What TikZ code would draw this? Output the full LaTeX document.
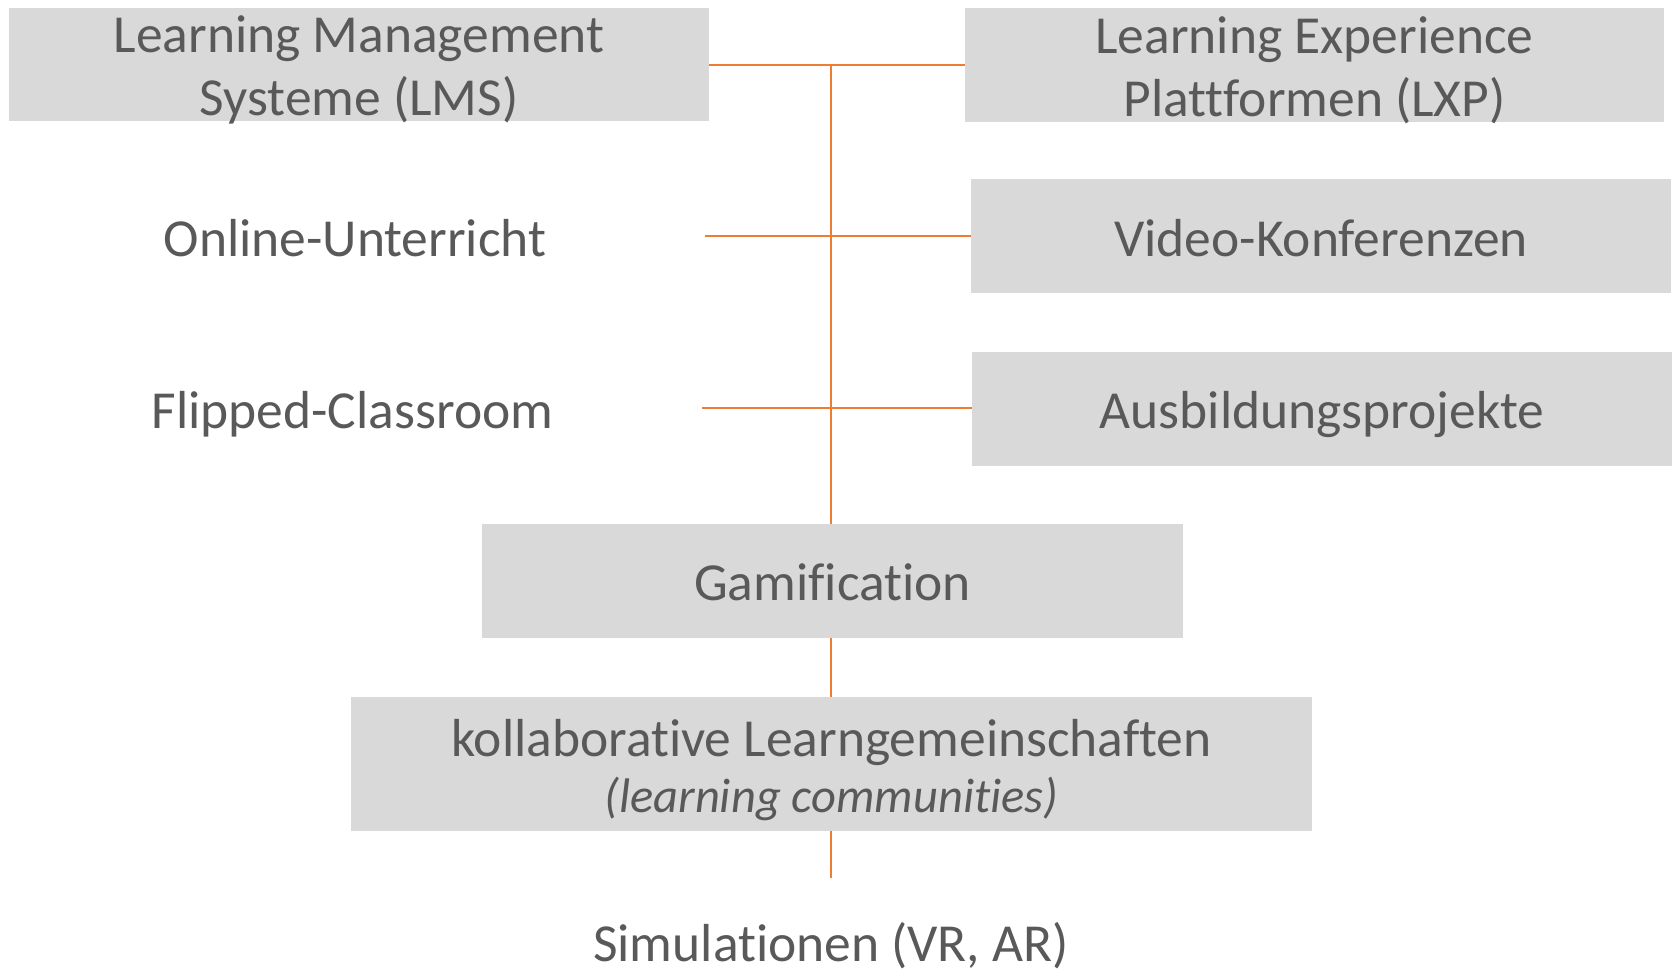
\documentclass[tikz,border=0pt]{standalone}
\usepackage{fontspec}
\setmainfont{Carlito}[Ligatures=CommonOff]
\definecolor{boxgray}{HTML}{D9D9D9}
\definecolor{txtgray}{HTML}{595959}
\definecolor{linor}{HTML}{ED7D31}
\begin{document}
\begin{tikzpicture}[x=1pt,y=-1pt,
  gbox/.style={fill=boxgray,draw=none,inner sep=0pt},
  txt/.style={inner sep=0pt,text=txtgray,anchor=base,font=\fontsize{53.5}{63}\selectfont},
  itxt/.style={inner sep=0pt,text=txtgray,anchor=base,font=\fontsize{48.5}{56}\selectfont\itshape},
  conn/.style={draw=linor,line width=1.7pt},
  connthick/.style={draw=linor,line width=2.5pt}]
\useasboundingbox (0,0) rectangle (1675,971);
% boxes
\node[gbox,minimum width=700.5,minimum height=113.5] (lms) at (359,64.5) {};
\node[gbox,minimum width=699,minimum height=113.5] (lxp) at (1314.5,65) {};
\node[gbox,minimum width=700,minimum height=114] (video) at (1321,236) {};
\node[gbox,minimum width=700,minimum height=113.5] (ausb) at (1322,409) {};
\node[gbox,minimum width=701,minimum height=113.5] (gami) at (832.5,581) {};
\node[gbox,minimum width=961,minimum height=133.5] (koll) at (831.5,764) {};
% texts
\node[txt] (lmsA) at ([yshift=11.5pt]lms.center) {Learning Management};
\node[txt] (lmsB) at ([yshift=-51.5pt]lms.center) {Systeme (LMS)};
\node[txt] (lxpA) at ([yshift=11.5pt]lxp.center) {Learning Experience};
\node[txt] (lxpB) at ([yshift=-51.5pt]lxp.center) {Plattformen (LXP)};
\node[txt] (videoT) at ([yshift=-20pt]video.center) {Video-Konferenzen};
\node[txt] (ausbT) at ([yshift=-19pt]ausb.center) {Ausbildungsprojekte};
\node[txt] (gamiT) at ([yshift=-19pt]gami.center) {Gamification};
\node[txt] (kollA) at ([yshift=8pt]koll.center) {kollaborative Learngemeinschaften};
\node[itxt] (kollB) at ([yshift=-48pt]koll.center) {(learning communities)};
\node[txt] (online) at (355,256) {Online-Unterricht};
\node[txt] (flip) at (352.5,428) {Flipped-Classroom};
\node[txt] (sim) at (831,961) {Simulationen (VR, AR)};
% connectors
\coordinate (top) at (831,65);
\coordinate (oL) at (705,236);
\coordinate (fL) at (702,408);
\coordinate (bot) at (831,878);
\draw[connthick] (lms.east |- top) -- (lxp.west |- top);
\draw[conn] (top) -- (gami.north -| top);
\draw[conn] (oL) -- (video.west |- oL);
\draw[conn] (fL) -- (ausb.west |- fL);
\draw[conn] (gami.south -| top) -- (koll.north -| top);
\draw[conn] (koll.south -| top) -- (bot);
\end{tikzpicture}
\end{document}
